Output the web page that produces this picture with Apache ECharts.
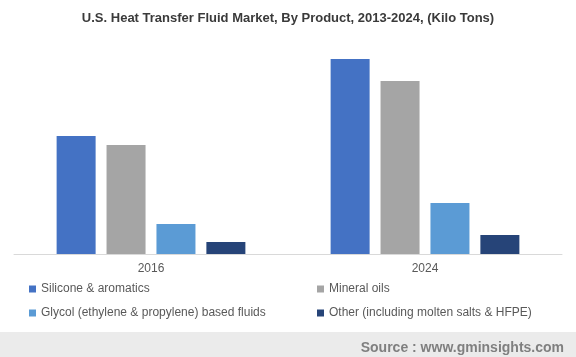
<!DOCTYPE html>
<html>
<head>
<meta charset="utf-8">
<script src="https://cdn.jsdelivr.net/npm/echarts@6/dist/echarts.min.js"></script>
<style>html,body{margin:0;padding:0;background:#fff}#c{width:576px;height:357px}</style>
</head>
<body>
<div id="c"></div>
<script>
var categories = ['2016', '2024'];
var seriesNames = ['Silicone & aromatics', 'Mineral oils', 'Glycol (ethylene & propylene) based fluids', 'Other (including molten salts & HFPE)'];
var silicone = [118, 195];
var mineral = [109, 173];
var glycol = [30, 51];
var other = [12, 19];
var colors = ['#4472C4', '#A5A5A5', '#5B9BD5', '#264478'];

var values = [silicone, mineral, glycol, other];
var chart = echarts.init(document.getElementById('c'));
var legendPos = [[29, 283], [317, 283], [29, 307], [317, 307]];
chart.setOption({
  animation: false,
  color: colors,
  title: [{
    text: 'U.S. Heat Transfer Fluid Market, By Product, 2013-2024, (Kilo Tons)',
    left: 'center', top: 7,
    textStyle: {fontFamily: 'Liberation Sans, Arial', fontSize: 13, fontWeight: 'bold', color: '#3a3a3a'}
  }, {
    text: 'Source : www.gminsights.com',
    right: 7, top: 336,
    textStyle: {fontFamily: 'Liberation Sans, Arial', fontSize: 14, fontWeight: 'bold', color: '#7f7f7f'}
  }],
  graphic: [{
    type: 'rect', left: 0, top: 332, z: -1,
    shape: {width: 576, height: 25},
    style: {fill: '#ebebeb'}
  }],
  legend: seriesNames.map(function (n, i) {
    return {
      data: [n], left: legendPos[i][0], top: legendPos[i][1],
      icon: 'rect', itemWidth: 7, itemHeight: 7, padding: 0,
      textStyle: {fontFamily: 'Liberation Sans, Arial', fontSize: 12, color: '#595959'}
    };
  }),
  grid: {left: 14, right: 14, top: 54, bottom: 103},
  xAxis: {
    type: 'category', data: categories,
    axisLine: {lineStyle: {color: '#d9d9d9'}},
    axisTick: {show: false},
    axisLabel: {fontFamily: 'Liberation Sans, Arial', fontSize: 12, color: '#595959', margin: 9}
  },
  yAxis: {type: 'value', min: 0, max: 200, show: false, splitLine: {show: false}},
  series: seriesNames.map(function (n, i) {
    return {name: n, type: 'bar', data: values[i], barWidth: 39, barGap: '28%'};
  })
});
</script>
</body>
</html>
